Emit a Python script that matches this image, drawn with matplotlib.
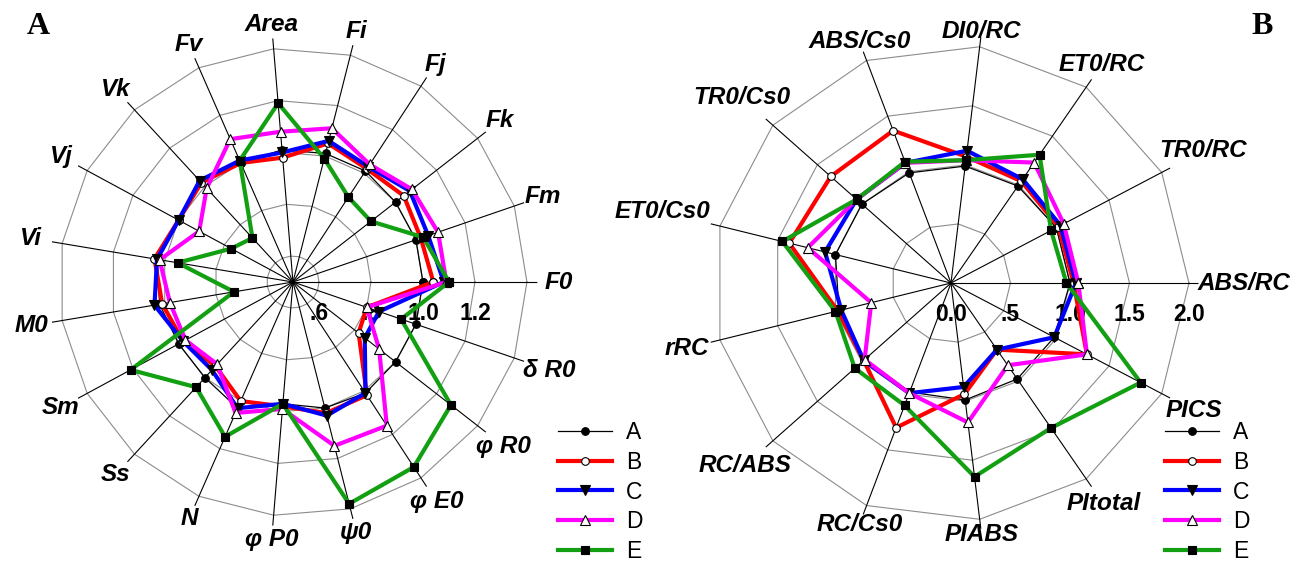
import numpy as np
import matplotlib
matplotlib.use('Agg')
import matplotlib.pyplot as plt

plt.rcParams['font.family'] = ['Liberation Sans', 'DejaVu Sans']

# ---- data, panel A (JIP-test parameters, relative to control) ----
labels_a = ['F0', 'Fm', 'Fk', 'Fj', 'Fi', 'Area', 'Fv', 'Vk', 'Vj', 'Vi', 'M0',
            'Sm', 'Ss', 'N', 'φ P0', 'ψ0', 'φ E0', 'φ R0', 'δ R0']
a_A = [1.00, 1.00, 1.00, 1.01, 1.01, 1.01, 1.00, 1.03, 1.00, 1.03, 1.02, 1.00, 1.00, 1.03, 0.97, 1.00, 1.01, 1.00, 1.00]
a_B = [1.04, 1.02, 1.04, 1.02, 1.05, 0.98, 1.00, 1.02, 1.00, 1.04, 1.01, 0.98, 0.94, 1.00, 0.98, 1.02, 1.02, 0.82, 0.80]
a_C = [1.08, 1.05, 1.07, 1.03, 1.06, 1.00, 1.01, 1.03, 1.00, 1.03, 1.04, 0.98, 0.96, 1.03, 0.97, 1.03, 1.01, 0.85, 0.85]
a_D = [1.09, 1.09, 1.08, 1.04, 1.11, 1.08, 1.10, 0.99, 0.91, 1.02, 0.98, 0.97, 0.93, 1.05, 0.99, 1.15, 1.16, 0.92, 0.80]
a_E = [1.10, 1.03, 0.88, 0.89, 0.99, 1.19, 1.01, 0.73, 0.77, 0.95, 0.73, 1.21, 1.05, 1.15, 0.97, 1.38, 1.35, 1.27, 0.94]
ticks_a = [0.6, 0.8, 1.0, 1.2, 1.4]
ticklabels_a = ['.6', '.8', '1.0', '1.2', '']

# ---- data, panel B ----
labels_b = ['ABS/RC', 'TR0/RC', 'ET0/RC', 'DI0/RC', 'ABS/Cs0', 'TR0/Cs0', 'ET0/Cs0',
            'rRC', 'RC/ABS', 'RC/Cs0', 'PIABS', 'PItotal', 'PICS']
b_A = [1.00, 1.00, 0.99, 0.99, 0.99, 1.00, 1.00, 0.97, 0.98, 0.98, 0.99, 0.98, 0.98]
b_B = [1.03, 1.02, 1.04, 1.07, 1.37, 1.35, 1.40, 0.98, 0.98, 1.30, 0.94, 0.68, 1.29]
b_C = [1.05, 1.04, 1.06, 1.12, 1.08, 1.06, 1.09, 0.95, 0.98, 0.99, 0.88, 0.68, 0.98]
b_D = [1.07, 1.07, 1.23, 1.04, 1.08, 1.06, 1.24, 0.69, 0.97, 0.99, 1.18, 0.84, 1.29]
b_E = [0.97, 0.95, 1.31, 1.04, 1.09, 1.06, 1.46, 1.00, 1.08, 1.10, 1.64, 1.48, 1.80]
ticks_b = [0.5, 1.0, 1.5, 2.0]
ticklabels_b = ['.5', '1.0', '1.5', '2.0']

names = ['A', 'B', 'C', 'D', 'E']

# line styles for the five treatments
styles = {
    'A': dict(color='black', lw=0.9, marker='o', mfc='black', mec='black', ms=5.5),
    'B': dict(color='#ff0000', lw=3, marker='o', mfc='white', mec='black', ms=5.5),
    'C': dict(color='#0000ff', lw=3, marker='v', mfc='black', mec='black', ms=6.5),
    'D': dict(color='#ff00ff', lw=3, marker='^', mfc='white', mec='black', ms=6.5),
    'E': dict(color='#12a012', lw=3, marker='s', mfc='black', mec='black', ms=6),
}


def radar(ax, labels, series, r0, r1, ticks, ticklabels, ppu, lab_base, lab_k):
    n = len(labels)
    th = np.arange(n) * 2 * np.pi / n
    thc = np.append(th, th[0])
    ax.set_ylim(r0, r1)
    ax.set_xticks([])
    ax.set_yticks([])
    ax.grid(False)
    ax.spines['polar'].set_visible(False)
    ax.patch.set_alpha(0)
    # polygon rings + spokes
    for r in ticks:
        ax.plot(thc, [r] * (n + 1), color='#8c8c8c', lw=0.8, zorder=1)
    for t in th:
        ax.plot([t, t], [r0, r1], color='black', lw=0.8, zorder=1)
    # radial tick labels under the first spoke
    if r0 == 0:
        ticks = [0.0] + ticks
        ticklabels = ['0.0'] + ticklabels
    for r, s in zip(ticks, ticklabels):
        ax.annotate(s, xy=(0, r), xytext=(0, -31), textcoords='offset pixels',
                    ha='center', va='center', fontsize=16.5, fontweight='bold',
                    zorder=1.5)
    # series
    lines = []
    for name, vals in zip(names, series):
        v = np.append(vals, vals[0])
        st = styles[name]
        ln, = ax.plot(thc, v, color=st['color'], lw=st['lw'], marker=st['marker'],
                      mfc=st['mfc'], mec=st['mec'], ms=st['ms'], mew=0.8,
                      zorder=2, clip_on=False, label=name)
        lines.append(ln)
    # category labels
    for t, lab in zip(th, labels):
        hw = 8.3 * len(lab)
        R = lab_base + lab_k * hw * np.cos(t) ** 2
        ax.text(t, r0 + R / ppu, lab, ha='center', va='center', fontsize=17.5,
                fontweight='bold', fontstyle='italic')
    return lines


fig = plt.figure(figsize=(13.09, 5.62), dpi=100)
leg_kw = dict(loc='upper left', frameon=False, fontsize=16.5, handlelength=2.36,
              handletextpad=0.6, labelspacing=0.30, borderpad=0, borderaxespad=0)

ax1 = fig.add_axes([0.0371, 0.0633, 0.3734, 0.8698], projection='polar')
lines = radar(ax1, labels_a, [a_A, a_B, a_C, a_D, a_E], 0.5, 1.44,
              ticks_a, ticklabels_a, 260, 258, 0.45)
fig.legend(lines, names, bbox_to_anchor=(0.4263, 0.2513), **leg_kw)

ax2 = fig.add_axes([0.5374, 0.0560, 0.3782, 0.8808], projection='polar')
lines = radar(ax2, labels_b, [b_A, b_B, b_C, b_D, b_E], 0.0, 2.08,
              ticks_b, ticklabels_b, 119, 253, 0.8)
fig.legend(lines, names, bbox_to_anchor=(0.890, 0.2513), **leg_kw)

fig.text(0.029, 0.953, 'A', family='Liberation Serif', fontweight='bold',
         fontsize=23, ha='center', va='center')
fig.text(0.964, 0.953, 'B', family='Liberation Serif', fontweight='bold',
         fontsize=23, ha='center', va='center')

fig.savefig('out.png', dpi=100)
